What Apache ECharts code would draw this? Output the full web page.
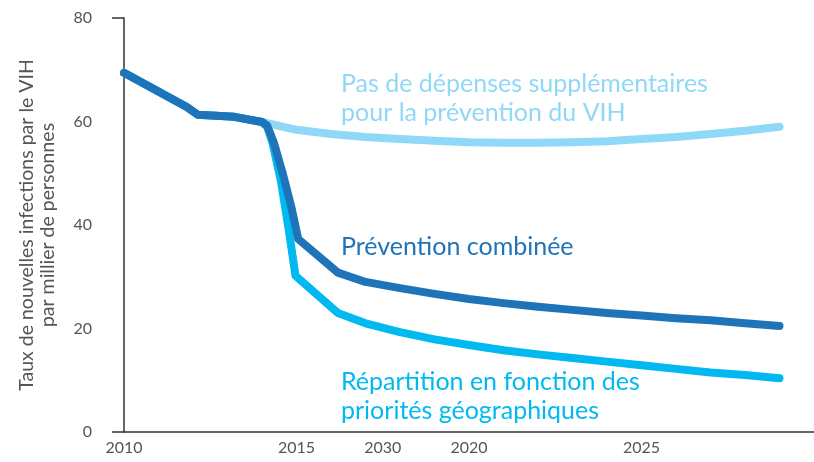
<!DOCTYPE html>
<html>
<head>
<meta charset="utf-8">
<script src="https://cdn.jsdelivr.net/npm/echarts@6/dist/echarts.min.js"></script>
<style>
html,body{margin:0;padding:0;background:#fff;}
#chart{width:814px;height:462px;}
</style>
</head>
<body>
<div id="chart"></div>
<script>
// Year positions (x) and rates (per 1000 people)
const sharedYears = [2010, 2011.82, 2012.14, 2013.2, 2014.0];
const sharedValues = [69.4, 62.8, 61.3, 60.9, 59.9];

const noSpendYears = [2015, 2016, 2017, 2018, 2019, 2020, 2021, 2022, 2023, 2024, 2025, 2026, 2027, 2028, 2029];
const noSpendValues = [58.4, 57.6, 57.0, 56.6, 56.3, 56.0, 55.9, 55.9, 56.0, 56.2, 56.6, 57.0, 57.6, 58.2, 59.0];

const combinedYears = [2014.15, 2014.35, 2014.6, 2014.85, 2015.05, 2016.2, 2017, 2018, 2019, 2020, 2021, 2022, 2023, 2024, 2025, 2026, 2027, 2028, 2029];
const combinedValues = [59.2, 55.8, 50.0, 43.5, 37.3, 30.8, 29.0, 27.8, 26.7, 25.7, 24.9, 24.2, 23.6, 23.0, 22.5, 22.0, 21.6, 21.0, 20.5];

const geoYears = [2014.15, 2014.3, 2014.55, 2014.8, 2014.97, 2016.2, 2017, 2018, 2019, 2020, 2021, 2022, 2023, 2024, 2025, 2026, 2027, 2028, 2029];
const geoValues = [59.0, 56.0, 48.5, 38.0, 30.2, 23.0, 21.0, 19.3, 17.9, 16.8, 15.8, 15.0, 14.3, 13.6, 12.9, 12.2, 11.5, 11.0, 10.4];

const xTickValues = [2010, 2015, 2017.5, 2020, 2025];
const xTickLabels = ['2010', '2015', '2030', '2020', '2025'];
const yTickValues = [0, 20, 40, 60, 80];

const seriesNames = [
  'Pas de dépenses supplémentaires\npour la prévention du VIH',
  'Prévention combinée',
  'Répartition en fonction des\npriorités géographiques'
];
const yAxisName = 'Taux de nouvelles infections par le VIH\npar millier de personnes';

const colLight = '#8fd8f7';
const colDark = '#1e73b9';
const colCyan = '#00b9f0';

function pairs(xs, ys) { return xs.map((x, i) => [x, ys[i]]); }
const shared = pairs(sharedYears, sharedValues);

const chart = echarts.init(document.getElementById('chart'));
const font = 'Lato, "Noto Sans", sans-serif';

chart.setOption({
  animation: false,
  grid: { left: 124, right: 0, top: 18, bottom: 30 },
  xAxis: {
    type: 'value', min: 2010, max: 2030,
    axisLine: { lineStyle: { color: '#333', width: 1.5 } },
    axisTick: { show: false },
    splitLine: { show: false },
    axisLabel: {
      customValues: xTickValues,
      formatter: v => { const i = xTickValues.indexOf(v); return i >= 0 ? xTickLabels[i] : ''; },
      color: '#555', fontSize: 16, fontFamily: font, margin: 8
    }
  },
  yAxis: {
    type: 'value', min: 0, max: 80, interval: 20,
    name: yAxisName, nameLocation: 'middle', nameGap: 66, nameRotate: 90,
    nameTextStyle: { color: '#555', fontSize: 19.5, fontFamily: font, lineHeight: 21 },
    axisLine: { show: true, lineStyle: { color: '#333', width: 1.5 } },
    axisTick: { show: true, customValues: [0, 80], length: 12, lineStyle: { color: '#333', width: 1.5 } },
    splitLine: { show: false },
    axisLabel: { customValues: yTickValues, color: '#555', fontSize: 16, fontFamily: font, margin: 32 }
  },
  series: [
    {
      name: seriesNames[0], type: 'line', showSymbol: false, z: 2,
      data: shared.concat(pairs(noSpendYears, noSpendValues)),
      lineStyle: { color: colLight, width: 8, cap: 'round', join: 'round' }
    },
    {
      name: seriesNames[2], type: 'line', showSymbol: false, z: 3,
      data: shared.concat(pairs(geoYears, geoValues)),
      lineStyle: { color: colCyan, width: 8, cap: 'round', join: 'round' }
    },
    {
      name: seriesNames[1], type: 'line', showSymbol: false, z: 4,
      data: shared.concat(pairs(combinedYears, combinedValues)),
      lineStyle: { color: colDark, width: 8, cap: 'round', join: 'round' }
    }
  ],
  graphic: [
    { type: 'text', left: 341, top: 69, style: { text: seriesNames[0], fill: colLight, font: '25px ' + font, lineHeight: 29 } },
    { type: 'text', left: 341, top: 232, style: { text: seriesNames[1], fill: colDark, font: '25px ' + font, lineHeight: 29 } },
    { type: 'text', left: 341, top: 367, style: { text: seriesNames[2], fill: colCyan, font: '25px ' + font, lineHeight: 29 } }
  ]
});
</script>
</body>
</html>
